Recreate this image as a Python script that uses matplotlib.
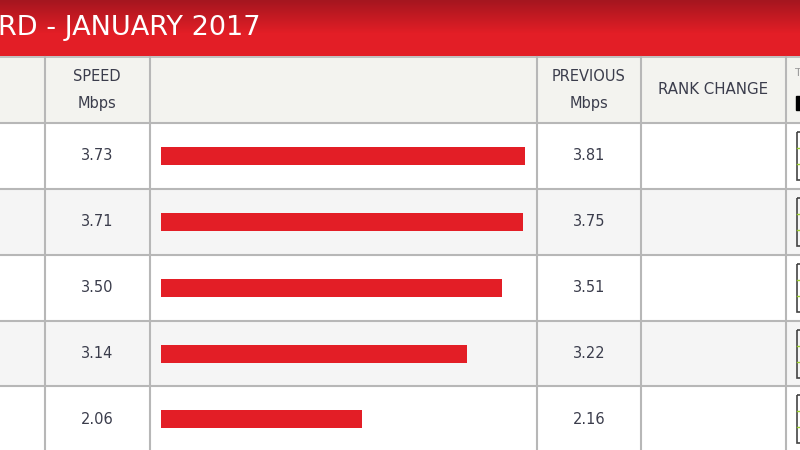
import matplotlib
matplotlib.use("Agg")
import matplotlib.pyplot as plt
import numpy as np
from matplotlib.patches import Rectangle

title = "RD - JANUARY 2017"
speeds = [3.73, 3.71, 3.50, 3.14, 2.06]
speed_labels = ["3.73", "3.71", "3.50", "3.14", "2.06"]
previous = ["3.81", "3.75", "3.51", "3.22", "2.16"]
headers = ["SPEED\nMbps", "PREVIOUS\nMbps", "RANK CHANGE"]

W, H = 800, 450
plt.rcParams['font.family'] = ['DejaVu Sans']
fig = plt.figure(figsize=(8, 4.5), dpi=100)
ax = fig.add_axes([0, 0, 1, 1])
ax.set_xlim(0, W)
ax.set_ylim(H, 0)
ax.axis('off')

# red header band with gradient
top = np.array([0xa5, 0x16, 0x1f]) / 255
bot = np.array([0xe3, 0x1e, 0x26]) / 255
t = np.clip(np.linspace(0, 1, 56) / 0.6, 0, 1)[:, None]
grad = top * (1 - t) + bot * t
ax.imshow(grad[:, None, :].repeat(2, axis=1), extent=[0, W, 56, 0], aspect='auto', zorder=0)
ax.text(-2, 28, title, color='white', fontsize=19.5, va='center', ha='left', zorder=3)

# header row
ax.add_patch(Rectangle((0, 56.5), W, 66.5, color='#f3f3ef', zorder=0))
row_top = [123, 189, 255, 320.5, 386]
row_bg = ['#ffffff', '#f5f5f5', '#ffffff', '#f5f5f5', '#ffffff']
for i, y0 in enumerate(row_top):
    y1 = row_top[i + 1] if i + 1 < len(row_top) else H
    ax.add_patch(Rectangle((0, y0), W, y1 - y0, color=row_bg[i], zorder=0))

line_c = '#b7b7b7'
ax.plot([0, W], [56.5, 56.5], color=line_c, lw=1.2, zorder=2)
for y in row_top:
    ax.plot([0, W], [y, y], color=line_c, lw=1.5, zorder=2)
for x in [44.5, 149.5, 536.5, 641, 785.5]:
    ax.plot([x, x], [56.5, H], color=line_c, lw=1.5, zorder=2)

txt_c = '#3b3d4c'
ax.text(97, 90, headers[0], color=txt_c, fontsize=10.5, ha='center', va='center', linespacing=2.0)
ax.text(589, 90, headers[1], color=txt_c, fontsize=10.5, ha='center', va='center', linespacing=2.0)
ax.text(713, 89, headers[2], color=txt_c, fontsize=10.8, ha='center', va='center')
ax.text(795, 73, "T", color='#999999', fontsize=8, ha='left', va='center')
ax.add_patch(Rectangle((796, 96), 6, 14, color='black', zorder=3))

centers = [156, 222, 288, 353.5, 419]
for i, c in enumerate(centers):
    ax.text(97, c, speed_labels[i], color=txt_c, fontsize=10.5, ha='center', va='center')
    ax.text(589, c, previous[i], color=txt_c, fontsize=10.5, ha='center', va='center')
    # partial sparkline boxes at right edge
    ax.add_patch(Rectangle((797, c - 24), 10, 48, fill=False, ec='#444444', lw=1.2, zorder=3))
    ax.plot([797, 801], [c - 8, c - 8], color='#9acd32', lw=1, zorder=4)
    ax.plot([797, 801], [c + 8, c + 8], color='#9acd32', lw=1, zorder=4)

# bars on their own data axes
bx0, scale = 160.5, 97.7
bax = fig.add_axes([bx0 / W, 0, 4 * scale / W, 1])
bax.set_xlim(0, 4)
bax.set_ylim(H, 0)
bax.axis('off')
bax.patch.set_alpha(0)
bax.barh(centers, speeds, height=18, color='#e31e26', left=0)

fig.savefig('out.png', dpi=100)
